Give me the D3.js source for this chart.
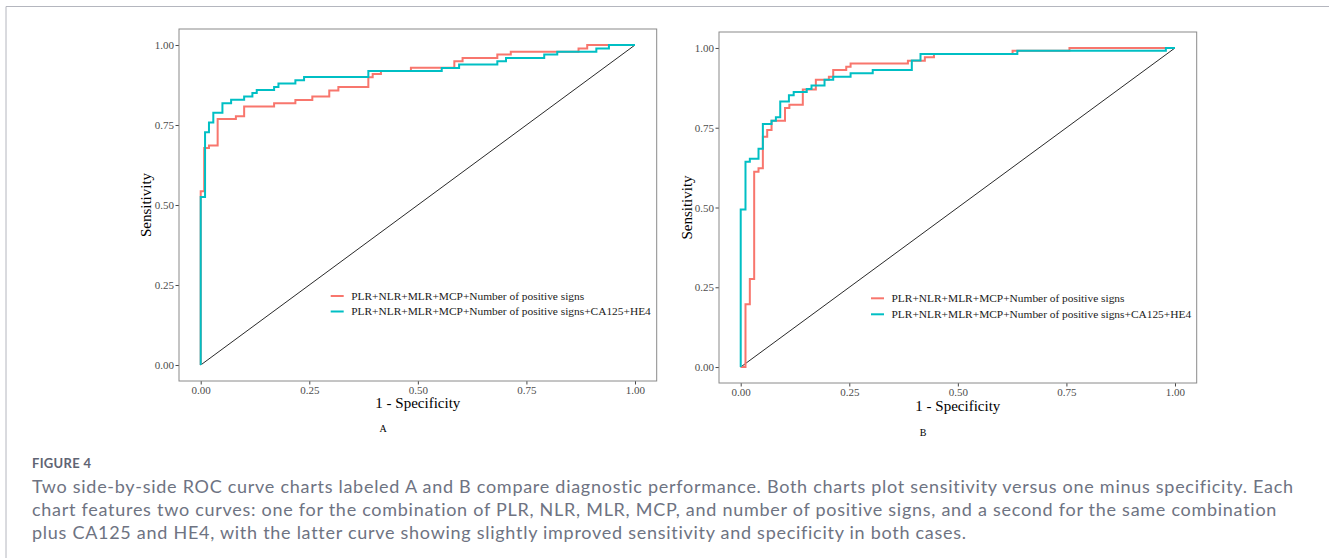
<!DOCTYPE html>
<html>
<head>
<meta charset="utf-8">
<script src="https://cdn.jsdelivr.net/npm/d3@7"></script>
<style>
  body { margin: 0; background: #fff; }
  svg { display: block; }
</style>
</head>
<body>
<div id="figure"></div>
<script>
// ROC data: corner points of each step curve (drawn with stepAfter)
const seriesNames = [
    "PLR+NLR+MLR+MCP+Number of positive signs",
    "PLR+NLR+MLR+MCP+Number of positive signs+CA125+HE4"
];
const seriesColors = ["#F8766D", "#00BFC4"];
const panelTags = ["A", "B"];
const tickValues = [0, 0.25, 0.5, 0.75, 1];

// panel A
const fprA1 = [0, 0, 0.008, 0.019, 0.039, 0.081, 0.1, 0.169, 0.218, 0.257, 0.296, 0.317, 0.386, 0.396, 0.415, 0.484, 0.584, 0.603, 0.683, 0.714, 0.87, 0.89, 1];
const tprA1 = [0, 0.543, 0.678, 0.686, 0.769, 0.777, 0.808, 0.818, 0.828, 0.839, 0.858, 0.869, 0.899, 0.909, 0.919, 0.929, 0.949, 0.959, 0.97, 0.979, 0.989, 1, 1];
const fprA2 = [0, 0, 0.01, 0.019, 0.029, 0.05, 0.07, 0.1, 0.119, 0.129, 0.169, 0.179, 0.218, 0.238, 0.386, 0.555, 0.595, 0.683, 0.703, 0.791, 0.821, 0.911, 0.94, 1];
const tprA2 = [0, 0.525, 0.727, 0.758, 0.788, 0.818, 0.829, 0.839, 0.85, 0.859, 0.869, 0.88, 0.89, 0.9, 0.919, 0.928, 0.939, 0.949, 0.959, 0.97, 0.979, 0.989, 1, 1];

// panel B
const fprB1 = [0, 0.011, 0.021, 0.031, 0.041, 0.051, 0.061, 0.071, 0.102, 0.112, 0.143, 0.173, 0.203, 0.213, 0.243, 0.253, 0.385, 0.424, 0.445, 0.626, 0.757, 1];
const tprB1 = [0, 0.197, 0.276, 0.612, 0.623, 0.722, 0.743, 0.772, 0.812, 0.822, 0.87, 0.9, 0.91, 0.931, 0.941, 0.951, 0.96, 0.971, 0.981, 0.991, 1, 1];
const fprB2 = [0, 0, 0.011, 0.021, 0.041, 0.051, 0.071, 0.081, 0.091, 0.111, 0.122, 0.152, 0.163, 0.193, 0.213, 0.253, 0.304, 0.394, 0.414, 0.637, 0.979, 1];
const tprB2 = [0, 0.494, 0.643, 0.653, 0.684, 0.762, 0.772, 0.783, 0.832, 0.852, 0.862, 0.871, 0.882, 0.9, 0.91, 0.921, 0.931, 0.961, 0.981, 0.991, 1, 1];

const captionTitle = "FIGURE 4";
const captionLines = [
    "Two side-by-side ROC curve charts labeled A and B compare diagnostic performance. Both charts plot sensitivity versus one minus specificity. Each",
    "chart features two curves: one for the combination of PLR, NLR, MLR, MCP, and number of positive signs, and a second for the same combination",
    "plus CA125 and HE4, with the latter curve showing slightly improved sensitivity and specificity in both cases."
];

const W = 1329, H = 558;
const SERIF = "'Liberation Serif', 'Times New Roman', serif";

class RocPanel {
    constructor(svg, box, curves, tag) {
        this.svg = svg;
        this.box = box;       // border rectangle and text anchors
        this.curves = curves; // [[fpr, tpr], ...]
        this.tag = tag;
    }

    plot() {
        this.g = this.svg.append("g");
        this._setScale();
        this._addAxis();
        this._addDiagonal();
        this._addCurves();
        this._addLegend();
        this._addLabels();
    }

    _setScale() {
        let b = this.box;
        // ggplot default 5% expansion on both axes
        this.x = d3.scaleLinear().domain([-0.05, 1.05]).range([b.left, b.right]);
        this.y = d3.scaleLinear().domain([-0.05, 1.05]).range([b.bottom, b.top]);
    }

    _addAxis() {
        let b = this.box;
        let fmt = d3.format(".2f");
        let gx = this.g.append("g")
            .attr("transform", "translate(0," + b.bottom + ")")
            .call(d3.axisBottom(this.x).tickValues(tickValues).tickFormat(fmt).tickSize(3.5).tickPadding(1.5));
        let gy = this.g.append("g")
            .attr("transform", "translate(" + b.left + ",0)")
            .call(d3.axisLeft(this.y).tickValues(tickValues).tickFormat(fmt).tickSize(3.5).tickPadding(1.5));
        [gx, gy].forEach(function (a) {
            a.select(".domain").remove();
            a.selectAll(".tick line").attr("stroke", "#333").attr("stroke-width", 0.9);
            a.selectAll(".tick text")
                .attr("fill", "#4d4d4d")
                .style("font-family", SERIF)
                .style("font-size", "11px");
        });

        this.g.append("rect")
            .attr("x", b.left).attr("y", b.top)
            .attr("width", b.right - b.left).attr("height", b.bottom - b.top)
            .attr("fill", "none").attr("stroke", "#8a8a8a").attr("stroke-width", 1);
    }

    _addDiagonal() {
        this.g.append("line")
            .attr("x1", this.x(0)).attr("y1", this.y(0))
            .attr("x2", this.x(1)).attr("y2", this.y(1))
            .attr("stroke", "#111").attr("stroke-width", 0.9);
    }

    _addCurves() {
        let x = this.x, y = this.y;
        let line = d3.line()
            .x(function (d) { return x(d[0]); })
            .y(function (d) { return y(d[1]); })
            .curve(d3.curveStepAfter);
        this.g.append("g")
            .selectAll("path")
            .data(this.curves)
            .enter()
            .append("path")
            .attr("d", function (c) { return line(c[0].map(function (v, i) { return [v, c[1][i]]; })); })
            .attr("fill", "none")
            .attr("stroke", function (c, i) { return seriesColors[i]; })
            .attr("stroke-width", 2);
    }

    _addLegend() {
        let b = this.box;
        let items = this.g.append("g")
            .selectAll("g")
            .data(seriesNames)
            .enter()
            .append("g")
            .attr("transform", function (d, i) { return "translate(" + b.legendX + "," + (b.legendY + i * b.legendStep) + ")"; });
        items.append("line")
            .attr("x1", 0).attr("x2", 13)
            .attr("stroke", function (d, i) { return seriesColors[i]; })
            .attr("stroke-width", 2);
        items.append("text")
            .attr("x", 20.5).attr("dy", "0.33em")
            .style("font-family", SERIF).style("font-size", "11.4px")
            .attr("fill", "#1a1a1a")
            .text(function (d) { return d; });
    }

    _addLabels() {
        let b = this.box;
        this.g.append("text")
            .attr("x", (b.left + b.right) / 2).attr("y", b.titleY)
            .attr("text-anchor", "middle")
            .style("font-family", SERIF).style("font-size", "15px")
            .text("1 - Specificity");
        this.g.append("text")
            .attr("transform", "translate(" + b.ylabX + "," + (b.top + b.bottom) / 2 + ") rotate(-90)")
            .attr("text-anchor", "middle")
            .style("font-family", SERIF).style("font-size", "15px")
            .text("Sensitivity");
        this.g.append("text")
            .attr("x", b.tagX).attr("y", b.tagY)
            .attr("text-anchor", "middle")
            .style("font-family", SERIF).style("font-size", "10px")
            .text(this.tag);
    }
}

const svg = d3.select("#figure").append("svg").attr("width", W).attr("height", H);

// page frame
svg.append("path")
    .attr("d", "M6,558 V6.5 H1329")
    .attr("fill", "none").attr("stroke", "#b4b6be").attr("stroke-width", 1);

const boxes = [
    { left: 179, top: 29, right: 656.7, bottom: 381, legendX: 330.7, legendY: 296, legendStep: 15.5,
      titleY: 408, ylabX: 151, tagX: 383, tagY: 431.5 },
    { left: 719, top: 32, right: 1196.7, bottom: 383, legendX: 871, legendY: 298.3, legendStep: 16,
      titleY: 411, ylabX: 692, tagX: 923, tagY: 436 }
];
const curveSets = [
    [[fprA1, tprA1], [fprA2, tprA2]],
    [[fprB1, tprB1], [fprB2, tprB2]]
];
panelTags.forEach(function (tag, i) {
    new RocPanel(svg, boxes[i], curveSets[i], tag).plot();
});

// caption
const CAP_FONT = "Lato, 'Open Sans', sans-serif";
svg.append("text")
    .attr("x", 32).attr("y", 468)
    .style("font-family", CAP_FONT).style("font-size", "13px").style("font-weight", 700)
    .style("letter-spacing", "0.3px")
    .attr("fill", "#5f6473")
    .text(captionTitle);

const cap = svg.append("g")
    .style("font-family", CAP_FONT)
    .style("font-size", "18px")
    .style("font-variant-ligatures", "none")
    .attr("fill", "#6e7382");
const capLines = cap.selectAll("text")
    .data(captionLines)
    .enter()
    .append("text")
    .attr("x", 32)
    .attr("y", function (d, i) { return 492.5 + i * 23.2; })
    .text(function (d) { return d; });
// widen spacing so the first line spans 32 -> 1293 as in the figure
const len0 = capLines.node().getComputedTextLength();
const ls = (1293 - 32 - len0) / (captionLines[0].length - 1);
capLines.style("letter-spacing", Math.max(0, ls).toFixed(3) + "px");
</script>
</body>
</html>
